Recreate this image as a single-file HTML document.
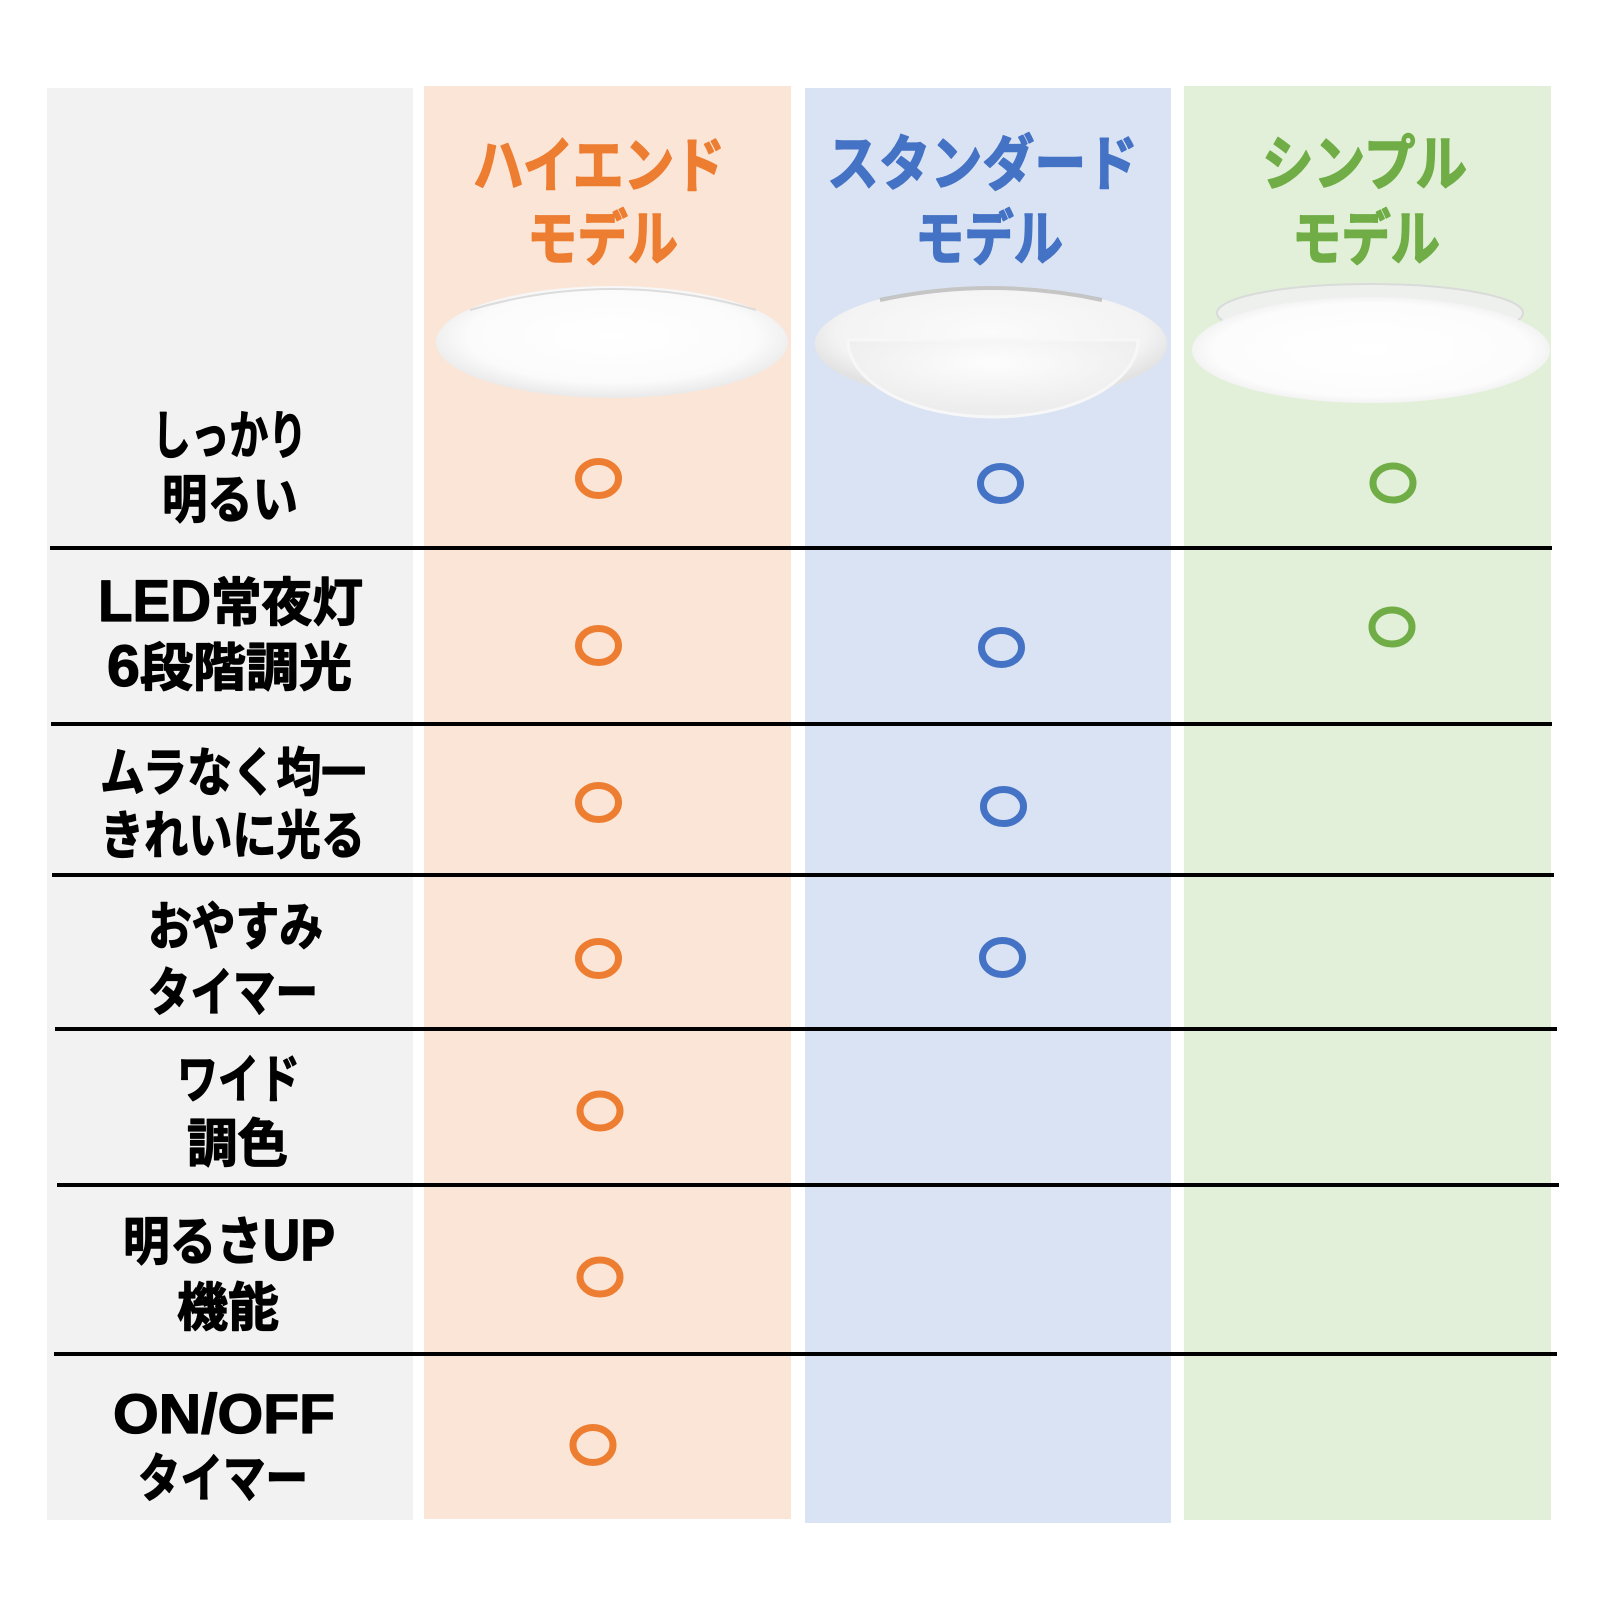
<!DOCTYPE html>
<html lang="ja">
<head>
<meta charset="utf-8">
<style>
html,body{margin:0;padding:0;background:#fff;width:1600px;height:1600px;overflow:hidden}
svg{display:block}
text{font-family:"Liberation Sans","Noto Sans CJK JP",sans-serif;font-weight:700}
</style>
</head>
<body>
<svg width="1600" height="1600" viewBox="0 0 1600 1600" xmlns="http://www.w3.org/2000/svg">
  <defs>
    <radialGradient id="g1" cx="50%" cy="45%" r="55%">
      <stop offset="0" stop-color="#ffffff"/>
      <stop offset="0.75" stop-color="#fbfbfb"/>
      <stop offset="1" stop-color="#e9e9e9"/>
    </radialGradient>
    <radialGradient id="g2" cx="50%" cy="40%" r="55%">
      <stop offset="0" stop-color="#fbfbfb"/>
      <stop offset="0.8" stop-color="#f3f3f3"/>
      <stop offset="1" stop-color="#e2e2e2"/>
    </radialGradient>
    <radialGradient id="g2b" cx="50%" cy="30%" r="60%">
      <stop offset="0" stop-color="#fdfdfd"/>
      <stop offset="1" stop-color="#ededed"/>
    </radialGradient>
    <radialGradient id="g3" cx="50%" cy="50%" r="55%">
      <stop offset="0" stop-color="#ffffff"/>
      <stop offset="0.8" stop-color="#fcfcfc"/>
      <stop offset="1" stop-color="#ececec"/>
    </radialGradient>
  </defs>

  <!-- column backgrounds -->
  <rect x="47" y="88" width="366" height="1432" fill="#F2F2F2"/>
  <rect x="424" y="86" width="367" height="1433" fill="#FBE5D6"/>
  <rect x="805" y="88" width="366" height="1435" fill="#DAE3F3"/>
  <rect x="1184" y="86" width="367" height="1434" fill="#E2F0D9"/>

  <!-- headers -->
  <g font-size="60" stroke-width="1.6" stroke-linejoin="round">
    <text x="473" y="187" textLength="252" lengthAdjust="spacingAndGlyphs" fill="#ED7D31" stroke="#ED7D31">ハイエンド</text>
    <text x="527" y="260" textLength="151" lengthAdjust="spacingAndGlyphs" fill="#ED7D31" stroke="#ED7D31">モデル</text>
    <text x="827" y="185" textLength="311" lengthAdjust="spacingAndGlyphs" fill="#4472C4" stroke="#4472C4">スタンダード</text>
    <text x="915" y="260" textLength="148" lengthAdjust="spacingAndGlyphs" fill="#4472C4" stroke="#4472C4">モデル</text>
    <text x="1262" y="185" textLength="205" lengthAdjust="spacingAndGlyphs" fill="#70AD47" stroke="#70AD47">シンプル</text>
    <text x="1292" y="260" textLength="148" lengthAdjust="spacingAndGlyphs" fill="#70AD47" stroke="#70AD47">モデル</text>
  </g>

  <!-- lamp 1 (high-end) -->
  <ellipse cx="612" cy="342" rx="176" ry="56" fill="url(#g1)"/>
  <path d="M 470 310 Q 612 268 756 310" fill="none" stroke="#d4d4d4" stroke-width="2" opacity="0.8"/>

  <!-- lamp 2 (standard) -->
  <ellipse cx="991" cy="344" rx="176" ry="58" fill="url(#g2)"/>
  <path d="M 880 300 Q 991 276 1102 300" fill="none" stroke="#b9b9b9" stroke-width="4" opacity="0.8"/>
  <path d="M 848 340 A 145 77 0 0 0 1138 340 Z" fill="url(#g2b)" stroke="#f7f7f7" stroke-width="3"/>

  <!-- lamp 3 (simple) -->
  <ellipse cx="1370" cy="313" rx="153" ry="29" fill="#eef0ee" stroke="#d9dbd9" stroke-width="2"/>
  <ellipse cx="1371" cy="350" rx="179" ry="53" fill="url(#g3)"/>

  <!-- row labels -->
  <g font-size="52" fill="#000" stroke="#000" stroke-width="1.3" stroke-linejoin="round">
    <text x="152" y="454" textLength="155" lengthAdjust="spacingAndGlyphs">しっかり</text>
    <text x="162" y="518" textLength="136" lengthAdjust="spacingAndGlyphs">明るい</text>

    <text x="98" y="621" textLength="265" lengthAdjust="spacingAndGlyphs"><tspan font-size="58">LED</tspan>常夜灯</text>
    <text x="107" y="686" textLength="245" lengthAdjust="spacingAndGlyphs"><tspan font-size="58">6</tspan>段階調光</text>

    <text x="100" y="791" textLength="266" lengthAdjust="spacingAndGlyphs">ムラなく均一</text>
    <text x="100" y="854" textLength="265" lengthAdjust="spacingAndGlyphs">きれいに光る</text>

    <text x="148" y="945" textLength="175" lengthAdjust="spacingAndGlyphs">おやすみ</text>
    <text x="148" y="1011" textLength="170" lengthAdjust="spacingAndGlyphs">タイマー</text>

    <text x="177" y="1098" textLength="123" lengthAdjust="spacingAndGlyphs">ワイド</text>
    <text x="187" y="1162" textLength="101" lengthAdjust="spacingAndGlyphs">調色</text>

    <text x="123" y="1260" textLength="212" lengthAdjust="spacingAndGlyphs">明るさ<tspan font-size="58">UP</tspan></text>
    <text x="177" y="1326" textLength="102" lengthAdjust="spacingAndGlyphs">機能</text>

    <text x="113" y="1433" textLength="222" lengthAdjust="spacingAndGlyphs" font-size="56">ON/OFF</text>
    <text x="138" y="1497" textLength="170" lengthAdjust="spacingAndGlyphs">タイマー</text>
  </g>

  <!-- row divider lines -->
  <g fill="#000">
    <rect x="50" y="546" width="1502" height="4"/>
    <rect x="51" y="722" width="1501" height="4"/>
    <rect x="52" y="873" width="1502" height="4"/>
    <rect x="55" y="1027" width="1502" height="4"/>
    <rect x="57" y="1183" width="1502" height="4"/>
    <rect x="54" y="1352" width="1503" height="4"/>
  </g>

  <!-- circle marks -->
  <g fill="none" stroke-width="7">
    <g stroke="#ED7D31">
      <ellipse cx="598.5" cy="478.5" rx="20" ry="17"/>
      <ellipse cx="598.5" cy="645.5" rx="20" ry="17"/>
      <ellipse cx="598.5" cy="802.5" rx="20" ry="17"/>
      <ellipse cx="598.5" cy="958.5" rx="20" ry="17"/>
      <ellipse cx="600" cy="1111" rx="20" ry="17"/>
      <ellipse cx="600" cy="1277" rx="20" ry="17"/>
      <ellipse cx="593" cy="1445" rx="20" ry="17.5"/>
    </g>
    <g stroke="#4472C4">
      <ellipse cx="1000.5" cy="483.5" rx="20" ry="17"/>
      <ellipse cx="1001.5" cy="647.5" rx="20" ry="17"/>
      <ellipse cx="1003.5" cy="806.5" rx="20" ry="17"/>
      <ellipse cx="1002.5" cy="957.5" rx="20" ry="17"/>
    </g>
    <g stroke="#70AD47">
      <ellipse cx="1393" cy="483" rx="20" ry="17"/>
      <ellipse cx="1392" cy="627" rx="20" ry="17"/>
    </g>
  </g>
</svg>
</body>
</html>
